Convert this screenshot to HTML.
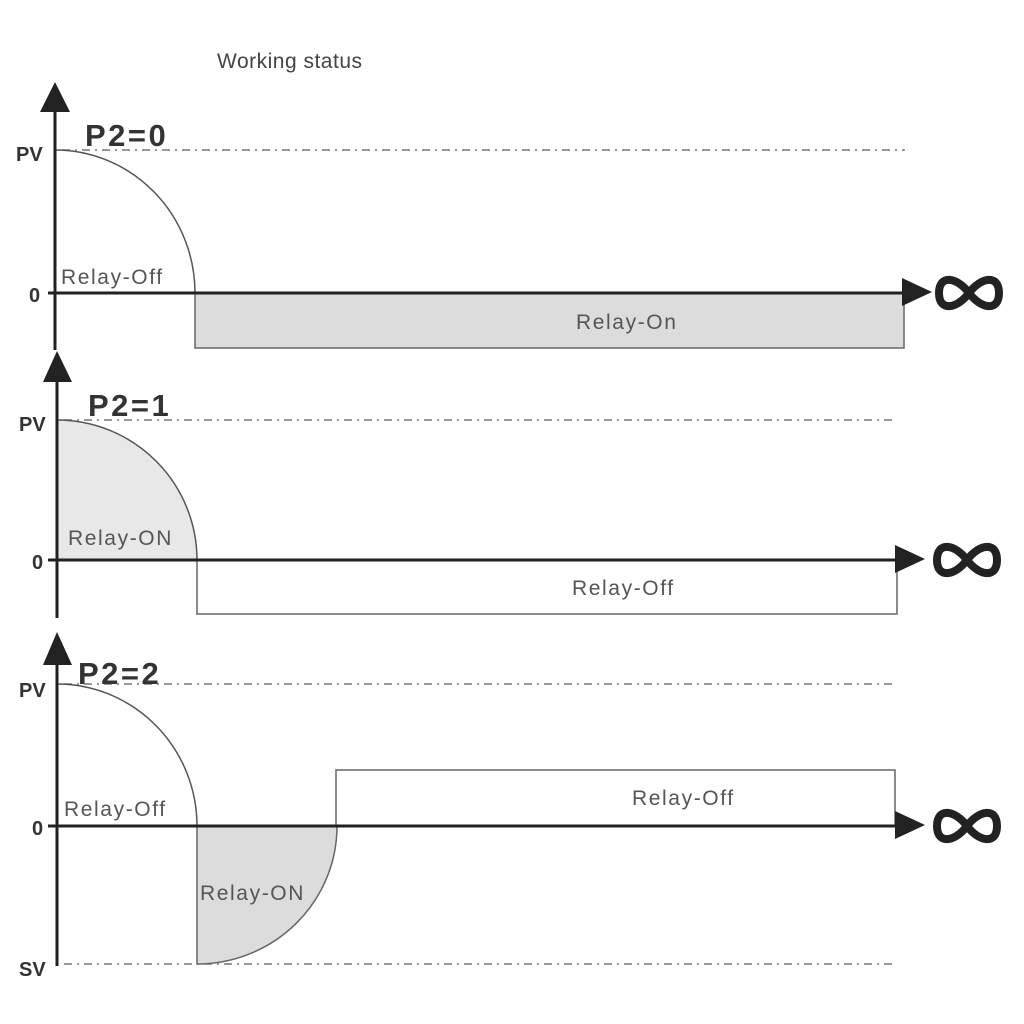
<!DOCTYPE html>
<html><head><meta charset="utf-8"><style>
html,body{margin:0;padding:0;background:#fff;width:1024px;height:1024px;overflow:hidden}
text{font-family:"Liberation Sans","DejaVu Sans",sans-serif}
.lbl{font-size:21px;fill:#555;letter-spacing:1.6px}
.p2{font-size:31px;fill:#333;letter-spacing:2.5px;font-weight:bold}
.ax{font-size:20px;font-weight:bold;fill:#333}
</style></head><body>
<svg width="1024" height="1024" viewBox="0 0 1024 1024" xmlns="http://www.w3.org/2000/svg">
<rect width="1024" height="1024" fill="#fff"/>
<text x="217" y="68" font-size="21" fill="#444" letter-spacing="0.5">Working status</text>

<!-- Panel 1 -->
<g>
<line x1="62" y1="150" x2="905" y2="150" stroke="#777" stroke-width="1.5" stroke-dasharray="8,5,2,5"/>
<rect x="195" y="293" width="709" height="55" fill="#dcdcdc" stroke="#666" stroke-width="1.5"/>
<path d="M55,150 A140,143 0 0 1 195,293" fill="none" stroke="#555" stroke-width="1.5"/>
<line x1="55" y1="105" x2="55" y2="350" stroke="#222" stroke-width="3"/>
<polygon points="55,82 40,112 70,112" fill="#222"/>
<line x1="48" y1="293" x2="905" y2="293" stroke="#222" stroke-width="3"/>
<polygon points="932,292 902,278 902,306" fill="#222"/>
<text x="85" y="146" class="p2">P2=0</text>
<text x="16" y="161" class="ax">PV</text>
<text x="29" y="302" class="ax">0</text>
<text x="61" y="284" class="lbl">Relay-Off</text>
<text x="576" y="329" class="lbl">Relay-On</text>
<path d="M969,293 C957,277 939,274 939,293 C939,312 957,309 969,293 C981,277 999,274 999,293 C999,312 981,309 969,293Z" fill="none" stroke="#222" stroke-width="8"/>
</g>

<!-- Panel 2 -->
<g>
<line x1="64" y1="420" x2="897" y2="420" stroke="#777" stroke-width="1.5" stroke-dasharray="8,5,2,5"/>
<path d="M57,420 A140,140 0 0 1 197,560 L57,560Z" fill="#e8e8e8" stroke="none"/>
<path d="M57,420 A140,140 0 0 1 197,560" fill="none" stroke="#555" stroke-width="1.5"/>
<rect x="197" y="560" width="700" height="54" fill="#fff" stroke="#666" stroke-width="1.5"/>
<line x1="57" y1="372" x2="57" y2="618" stroke="#222" stroke-width="3"/>
<polygon points="57,351 43,382 72,382" fill="#222"/>
<line x1="48" y1="560" x2="897" y2="560" stroke="#222" stroke-width="3"/>
<polygon points="925,559 895,545 895,573" fill="#222"/>
<text x="88" y="416" class="p2">P2=1</text>
<text x="19" y="431" class="ax">PV</text>
<text x="32" y="569" class="ax">0</text>
<text x="68" y="545" class="lbl">Relay-ON</text>
<text x="572" y="595" class="lbl">Relay-Off</text>
<path d="M967,560 C955,544 937,541 937,560 C937,579 955,576 967,560 C979,544 997,541 997,560 C997,579 979,576 967,560Z" fill="none" stroke="#222" stroke-width="8"/>
</g>

<!-- Panel 3 -->
<g>
<line x1="64" y1="684" x2="895" y2="684" stroke="#777" stroke-width="1.5" stroke-dasharray="8,5,2,5"/>
<line x1="64" y1="964" x2="895" y2="964" stroke="#777" stroke-width="1.5" stroke-dasharray="8,5,2,5"/>
<path d="M57,684 A140,142 0 0 1 197,826" fill="none" stroke="#555" stroke-width="1.5"/>
<path d="M197,826 L337,826 A140,138 0 0 1 197,964 Z" fill="#dcdcdc" stroke="#666" stroke-width="1.5"/>
<rect x="336" y="770" width="559" height="56" fill="#fff" stroke="#666" stroke-width="1.5"/>
<line x1="57" y1="655" x2="57" y2="966" stroke="#222" stroke-width="3"/>
<polygon points="57,632 43,665 72,665" fill="#222"/>
<line x1="48" y1="826" x2="897" y2="826" stroke="#222" stroke-width="3"/>
<polygon points="925,825 895,811 895,839" fill="#222"/>
<text x="78" y="684" class="p2">P2=2</text>
<text x="19" y="697" class="ax">PV</text>
<text x="32" y="835" class="ax">0</text>
<text x="19" y="976" class="ax">SV</text>
<text x="64" y="816" class="lbl">Relay-Off</text>
<text x="200" y="900" class="lbl">Relay-ON</text>
<text x="632" y="805" class="lbl">Relay-Off</text>
<path d="M967,826 C955,810 937,807 937,826 C937,845 955,842 967,826 C979,810 997,807 997,826 C997,845 979,842 967,826Z" fill="none" stroke="#222" stroke-width="8"/>
</g>
</svg>
</body></html>
